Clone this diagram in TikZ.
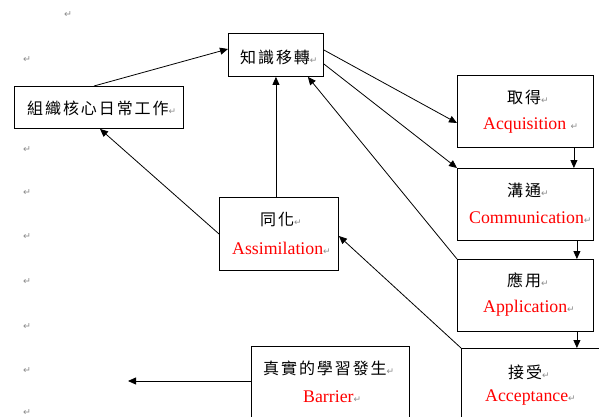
\documentclass[tikz,border=0pt]{standalone}
\usepackage{fontspec}
\setmainfont{Liberation Serif}
\newfontfamily\cjkfont[LetterSpace=12]{Noto Sans CJK TC}
\newfontfamily\dejavu{DejaVu Sans}
\usetikzlibrary{arrows.meta,calc}
\newcommand{\pmark}{{\color{black!45}\dejavu\fontsize{9}{9}\selectfont ↵}}
\tikzset{
  box/.style={draw, line width=0.9pt, fill=white, anchor=north west, inner sep=0pt},
  zh/.style={anchor=west, inner sep=0pt, font=\cjkfont\fontsize{16}{16}\selectfont},
  en/.style={anchor=west, inner sep=0pt, text=red, font=\fontsize{17.8}{18}\selectfont},
  pm/.style={anchor=center, inner sep=0pt, font=\dejavu\fontsize{9.5}{9.5}\selectfont, text=black!45},
  conn/.style={line width=0.8pt, -{Triangle[length=8pt,width=7pt]}}
}
\begin{document}
\begin{tikzpicture}[x=1pt,y=-1pt]
\useasboundingbox (0,0) rectangle (599,417);
% paragraph marks
\node[pm] (p1) at (68,15) {↵};
\node[pm] (p2) at (27,60) {↵};
\node[pm] (p3) at (27,150) {↵};
\node[pm] (p4) at (27,193) {↵};
\node[pm] (p5) at (27,237) {↵};
\node[pm] (p6) at (27,282) {↵};
\node[pm] (p7) at (27,327) {↵};
\node[pm] (p8) at (27,371) {↵};
\node[pm] (p9) at (27,413) {↵};
% boxes
\node[box, minimum width=95pt, minimum height=43pt] (km) at (228,33) {};
\node[box, minimum width=169pt, minimum height=42pt] (org) at (14,86) {};
\node[box, minimum width=136pt, minimum height=72pt] (acq) at (457,75) {};
\node[box, minimum width=136pt, minimum height=72pt] (com) at (457,168) {};
\node[box, minimum width=136pt, minimum height=72pt] (app) at (457,259) {};
\node[box, minimum width=150pt, minimum height=90pt] (acc) at (461,348) {};
\node[box, minimum width=119pt, minimum height=73pt] (ass) at (219,197) {};
\node[box, minimum width=158pt, minimum height=90pt] (bar) at (251,346) {};
% texts
\node[zh] (tkm) at (240,57) {知識移轉\pmark};
\node[zh] (torg) at (27,108) {組織核心日常工作\pmark};
\node[zh] (tacq1) at (507,97) {取得\pmark};
\node[en] (tacq2) at (483,126) {Acquisition \pmark};
\node[zh] (tcom1) at (507,190) {溝通\pmark};
\node[en] (tcom2) at (469,218) {Communication\pmark};
\node[zh] (tapp1) at (507,280) {應用\pmark};
\node[en] (tapp2) at (483,308) {Application\pmark};
\node[zh] (tacc1) at (508,372) {接受\pmark};
\node[en] (tacc2) at (485,398) {Acceptance\pmark};
\node[zh] (tass1) at (260,219) {同化\pmark};
\node[en] (tass2) at (232,248) {Assimilation\pmark};
\node[zh] (tbar1) at (263,368) {真實的學習發生\pmark};
\node[en] (tbar2) at (303,397) {Barrier\pmark};
% helper coordinates
\coordinate (orgtop) at ($(org.north west)+(80,0)$);
\coordinate (kmleft) at ($(km.north west)+(0,16)$);
\coordinate (orgbot) at ($(org.south west)+(86,0)$);
\coordinate (kmr1) at ($(km.north east)+(0,17)$);
\coordinate (kmr2) at ($(km.north east)+(0,31)$);
\coordinate (acqin) at ($(acq.north west)+(0,48)$);
\coordinate (kmbr) at ($(km.south east)+(-16,0)$);
\coordinate (assr) at ($(ass.north east)+(0,39)$);
\coordinate (acqb) at ($(acq.south east)+(-20,0)$);
\coordinate (comt) at ($(com.north east)+(-20,0)$);
\coordinate (comb) at ($(com.south east)+(-17,0)$);
\coordinate (appt) at ($(app.north east)+(-17,0)$);
\coordinate (appb) at ($(app.south east)+(-17,0)$);
\coordinate (barl) at ($(bar.north west)+(0,35)$);
\coordinate (barend) at (128,381);
% connectors
\draw[conn] (orgtop) -- (kmleft);
\draw[conn] (ass.north -| km.south) -- (km.south);
\draw[conn] (ass.west) -- (orgbot);
\draw[conn] (kmr1) -- (acqin);
\draw[conn] (kmr2) -- (com.north west);
\draw[conn] (app.north west) -- (kmbr);
\draw[conn] (acc.north west) -- (assr);
\draw[conn] (acqb) -- (comt);
\draw[conn] (comb) -- (appt);
\draw[conn] (appb) -- (appb |- acc.north);
\draw[conn] (barl) -- (barend);
\end{tikzpicture}
\end{document}
